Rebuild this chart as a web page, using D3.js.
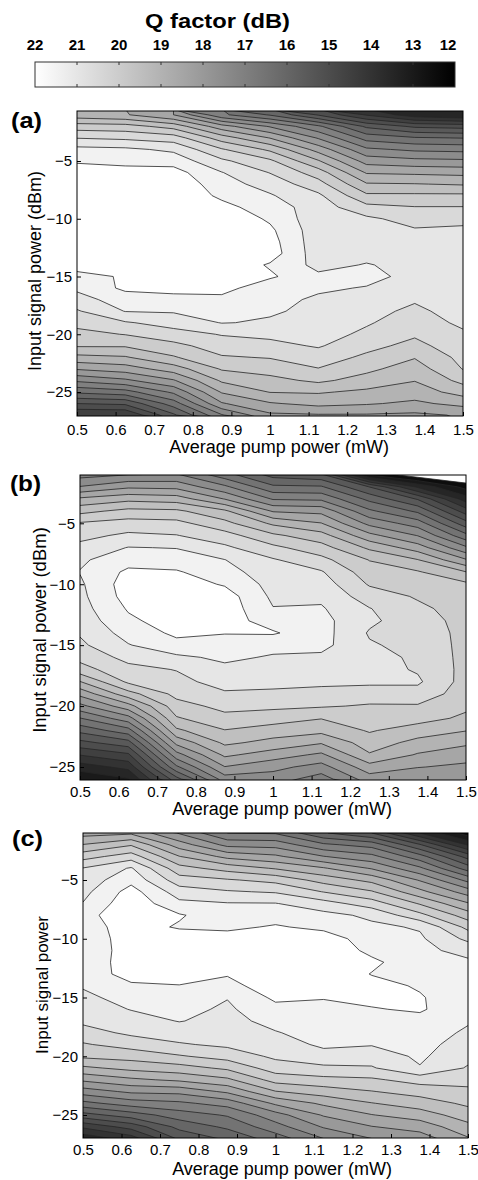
<!DOCTYPE html>
<html>
<head>
<meta charset="utf-8">
<script src="https://cdn.jsdelivr.net/npm/d3@7"></script>
<style>
  body { margin: 0; background: #fff; }
  svg { display: block; font-family: "Liberation Sans", Arial, sans-serif; }
</style>
</head>
<body>
<div id="chart"></div>
<script>
// pump power grid (mW), one entry per column of each Q table
var pumpPower = [0.5, 0.625, 0.75, 0.875, 1.0, 1.125, 1.25, 1.375, 1.5];
// input signal power rows (dBm), bottom to top
var signalA = [-27,-26,-25,-24,-23,-22,-21,-20,-19,-18,-17,-16,-15,-14,-13,-12,-11,-10,-9,-8,-7,-6,-5,-4,-3,-2,-1];
var signalB = [-26,-25,-24,-23,-22,-21,-20,-19,-18,-17,-16,-15,-14,-13,-12,-11,-10,-9,-8,-7,-6,-5,-4,-3,-2,-1];
var signalC = [-27,-26,-25,-24,-23,-22,-21,-20,-19,-18,-17,-16,-15,-14,-13,-12,-11,-10,-9,-8,-7,-6,-5,-4,-3,-2,-1];

// Q factor (dB), one array per pump power column, rows as in signalX
var qA = [
  [14.0,15.0,16.1,17.1,18.05,18.85,19.55,19.85,20.15,20.45,20.8,21.1,21.35,21.7,21.85,21.9,21.9,21.9,21.9,21.9,21.85,21.7,21.45,21.15,20.48,19.75,18.7],
  [14.0,15.1,16.3,17.4,18.25,18.95,19.55,20.02,20.45,21.02,21.25,21.6,21.55,21.85,21.9,21.9,21.9,21.9,21.9,21.9,21.85,21.7,21.35,21.1,20.4,19.7,18.55],
  [15.4,16.25,17.1,17.95,18.75,19.45,19.85,20.3,20.7,21.05,21.35,21.65,21.9,21.95,21.95,21.95,21.95,21.95,21.9,21.9,21.9,21.7,21.3,20.9,20.25,19.3,18.0],
  [16.95,17.95,18.55,19.08,19.55,19.95,20.25,20.53,21.02,21.15,21.35,21.7,21.9,21.9,21.9,21.9,21.9,21.9,21.65,21.4,21.2,21.02,20.6,20.05,19.25,18.2,16.6],
  [17.9,18.45,19.02,19.35,19.7,20.03,20.35,20.62,20.95,21.05,21.1,21.15,21.58,21.44,21.76,21.7,21.6,21.42,21.25,21.05,20.8,20.48,20.1,19.4,18.48,17.45,15.95],
  [17.95,18.65,19.05,19.6,19.98,20.25,20.55,20.7,20.8,20.9,20.95,21.05,21.1,20.85,20.72,20.7,20.7,20.68,20.75,20.6,20.2,19.75,19.05,18.3,17.45,16.6,14.95],
  [17.95,18.55,18.9,19.3,19.62,19.9,20.15,20.4,20.55,20.65,20.8,20.98,21.1,21.03,20.85,20.8,20.75,20.6,20.15,19.6,19.05,18.45,17.8,17.1,16.3,15.4,13.95],
  [17.9,18.4,18.75,19.02,19.25,19.53,19.85,20.07,20.25,20.4,20.55,20.8,20.9,20.85,20.75,20.65,20.55,20.3,20.02,19.6,19.02,18.4,17.65,16.9,16.05,14.9,13.2],
  [18.05,18.65,19.2,19.65,20.02,20.15,20.3,20.42,20.6,20.7,20.75,20.8,20.8,20.8,20.75,20.7,20.6,20.35,20.02,19.6,18.95,18.35,17.6,16.85,15.98,14.8,13.0]
];
var qB = [
  [12.55,13.25,14.02,14.85,15.65,16.48,17.35,18.15,18.98,19.8,20.15,20.4,20.55,20.7,20.8,20.87,20.92,21.02,20.92,20.65,20.35,20.05,19.35,18.6,17.52,16.8],
  [12.95,13.65,14.4,15.3,16.3,17.3,18.3,19.3,20.1,20.35,20.65,20.97,21.2,21.4,21.55,21.7,21.75,21.6,21.3,21.02,20.6,20.2,19.65,18.85,17.9,16.98],
  [15.3,16.4,17.3,18.15,18.9,19.45,19.8,20.15,20.35,20.52,20.9,21.35,21.6,21.75,21.8,21.8,21.75,21.55,21.25,20.98,20.52,20.15,19.6,18.75,17.85,17.05],
  [17.25,17.98,18.6,19.1,19.48,19.85,20.15,20.43,20.7,20.88,21.1,21.3,21.52,21.7,21.8,21.75,21.45,21.2,21.01,20.6,20.2,19.65,19.1,17.98,17.1,16.2],
  [17.25,17.65,18.25,18.85,19.25,19.75,20.1,20.4,20.65,20.8,20.95,21.15,21.55,21.3,21.02,20.9,20.82,20.7,20.55,20.12,19.6,18.9,17.95,16.95,16.1,15.3],
  [16.75,17.3,17.9,18.55,19.15,19.52,20.05,20.35,20.6,20.75,20.9,21.15,21.2,21.15,21.05,20.9,20.75,20.55,20.15,19.7,19.2,18.52,17.85,16.9,16.05,15.1],
  [17.75,18.3,18.95,19.25,19.55,19.78,19.95,20.25,20.6,20.7,20.7,20.55,20.45,20.6,20.52,20.25,19.95,19.72,19.48,18.9,18.15,17.35,16.6,15.85,14.98,12.4],
  [17.6,18.02,18.45,18.85,19.25,19.7,19.95,20.3,20.58,20.45,20.4,20.35,20.3,20.2,20.1,19.95,19.8,19.55,19.02,18.25,17.48,16.75,15.9,14.95,13.4,11.6],
  [17.7,17.9,18.2,18.6,19.02,19.4,19.6,19.75,19.8,19.85,19.85,19.85,19.85,19.85,19.8,19.75,19.6,19.02,18.05,17.1,16.15,15.2,14.25,13.25,12.3,11.3]
];
var qC = [
  [13.15,14.1,15.3,16.35,17.25,18.1,18.9,19.6,19.95,20.3,20.6,20.75,20.88,21.05,21.2,21.3,21.32,21.3,21.3,21.35,21.02,20.85,20.7,20.52,19.8,19.02,18.3],
  [13.75,14.7,15.75,16.75,17.6,18.4,19.15,19.7,20.2,20.6,20.8,21.02,21.2,21.42,21.7,21.65,21.62,21.65,21.7,21.8,21.85,21.7,21.35,21.05,20.25,19.45,18.4],
  [15.1,15.65,16.25,16.9,17.65,18.6,19.3,19.95,20.45,20.75,21.02,21.15,21.3,21.48,21.75,21.85,21.85,21.75,21.45,21.55,21.12,20.75,20.22,19.68,19.02,18.25,17.45],
  [15.6,16.1,16.55,17.2,18.1,18.9,19.6,20.2,20.6,20.75,20.85,20.92,21.02,21.3,21.55,21.8,21.85,21.7,21.4,21.2,21.03,20.55,20.05,19.3,18.35,17.35,16.5],
  [16.25,16.8,17.3,18.1,18.98,19.7,20.25,20.6,20.75,20.97,21.15,21.35,21.6,21.85,21.85,21.85,21.85,21.85,21.55,21.3,21.02,20.45,19.85,18.95,18.1,17.3,16.45],
  [17.0,17.55,18.05,18.6,19.25,19.85,20.4,20.8,21.1,21.2,21.3,21.4,21.52,21.85,21.85,21.85,21.85,21.75,21.38,21.15,20.7,19.98,19.3,18.55,17.52,16.6,15.55],
  [17.5,17.98,18.48,18.98,19.48,19.92,20.45,20.75,21.03,21.2,21.3,21.47,21.62,21.65,21.48,21.6,21.38,21.25,21.1,20.9,20.25,19.55,18.85,17.95,17.15,16.3,15.0],
  [17.75,18.2,18.75,19.25,19.7,20.2,20.97,21.08,21.15,21.25,21.35,21.56,21.54,21.45,21.35,21.2,21.12,21.08,20.95,20.15,19.45,18.65,17.95,17.1,16.2,15.05,13.5],
  [18.45,18.85,19.25,19.6,19.9,20.15,20.45,20.65,20.8,20.92,21.05,21.15,21.2,21.2,21.15,21.08,20.85,20.38,19.85,19.25,18.55,17.75,16.85,15.75,14.8,13.45,12.2]
];

var levels = [12,12.5,13,13.5,14,14.5,15,15.5,16,16.5,17,17.5,18,18.5,19,19.5,20,20.5,21,21.5];
var barTicks = [22,21,20,19,18,17,16,15,14,13,12];
var xTicks = [0.5,0.6,0.7,0.8,0.9,1,1.1,1.2,1.3,1.4,1.5];
var yTicks = [-5,-10,-15,-20,-25];

var svg = d3.select("#chart").append("svg")
    .attr("width", 478)
    .attr("height", 1180);

// band above level t gets the grey of its upper edge (22 = white, 12 = black)
function grey(t) {
  var v = Math.round((t + 0.5 - 12) / 10 * 255);
  v = Math.max(0, Math.min(255, v));
  return "rgb(" + v + "," + v + "," + v + ")";
}

// colour bar
var bar = {left: 35, right: 455, top: 62, bottom: 87};
var cb = d3.scaleLinear().domain([22, 12]).range([bar.left, bar.right]);
var grad = svg.append("defs").append("linearGradient").attr("id", "cbar");
grad.append("stop").attr("offset", "0%").attr("stop-color", "#fff");
grad.append("stop").attr("offset", "100%").attr("stop-color", "#000");

svg.append("text")
    .attr("x", 145).attr("y", 28)
    .attr("font-size", 20).attr("font-weight", "bold")
    .attr("textLength", 145).attr("lengthAdjust", "spacingAndGlyphs")
    .text("Q factor (dB)");

svg.append("rect")
    .attr("x", bar.left).attr("y", bar.top)
    .attr("width", bar.right - bar.left).attr("height", bar.bottom - bar.top)
    .attr("fill", "url(#cbar)")
    .attr("stroke", "#333").attr("stroke-width", 1);

svg.selectAll(".cbtick").data(barTicks.slice(1, -1)).enter().append("path")
    .attr("d", function(d) {
      var x = cb(d);
      return "M" + x + "," + bar.top + "v3M" + x + "," + bar.bottom + "v-3";
    })
    .attr("stroke", "#333").attr("stroke-width", 1);

svg.selectAll(".cblab").data(barTicks).enter().append("text")
    .attr("x", function(d, i) { return i === barTicks.length - 1 ? cb(d) - 7 : cb(d); })
    .attr("y", 50)
    .attr("text-anchor", "middle")
    .attr("font-size", 15).attr("font-weight", "bold")
    .text(function(d) { return d; });

function drawPanel(p) {
  var x = d3.scaleLinear().domain([0.5, 1.5]).range([p.left, p.right]);
  var y = d3.scaleLinear().domain([-25, -5]).range([p.y25, p.y5]);

  var n = pumpPower.length, m = p.rows.length;
  var values = new Array(n * m);
  for (var j = 0; j < m; j++) {
    for (var i = 0; i < n; i++) values[j * n + i] = p.q[i][j];
  }
  var contours = d3.contours().size([n, m]).thresholds(levels)(values);

  var dx = pumpPower[1] - pumpPower[0], dy = p.rows[1] - p.rows[0];
  var proj = d3.geoTransform({
    point: function(cx, cy) {
      this.stream.point(x(pumpPower[0] + (cx - 0.5) * dx), y(p.rows[0] + (cy - 0.5) * dy));
    }
  });
  var path = d3.geoPath(proj);

  svg.append("clipPath").attr("id", "clip" + p.name)
    .append("rect")
    .attr("x", p.left).attr("y", p.top)
    .attr("width", p.right - p.left).attr("height", p.bottom - p.top);

  var g = svg.append("g");
  var plot = g.append("g").attr("clip-path", "url(#clip" + p.name + ")");

  plot.append("rect")
      .attr("x", p.left).attr("y", p.top)
      .attr("width", p.right - p.left).attr("height", p.bottom - p.top)
      .attr("fill", "#fff");

  plot.selectAll(".band").data(contours).enter().append("path")
      .attr("d", path)
      .attr("fill", function(d) { return grey(d.value); });

  plot.selectAll(".line").data(contours).enter().append("path")
      .attr("d", path)
      .attr("fill", "none")
      .attr("stroke", "#262626")
      .attr("stroke-width", 0.8);

  // axes
  var xa = g.append("g")
      .attr("transform", "translate(0," + p.bottom + ")")
      .call(d3.axisBottom(x).tickValues(xTicks).tickFormat(d3.format("~g"))
        .tickSize(-4).tickSizeOuter(0).tickPadding(p.xPad));
  var ya = g.append("g")
      .attr("transform", "translate(" + p.left + ",0)")
      .call(d3.axisLeft(y).tickValues(yTicks).tickSize(-4).tickSizeOuter(0).tickPadding(5));
  [xa, ya].forEach(function(a) {
    a.select(".domain").remove();
    a.selectAll("line").attr("stroke", "#000");
    a.selectAll("text").attr("font-size", 15).attr("fill", "#000")
      .attr("font-family", "'Liberation Sans', Arial, sans-serif");
  });

  g.append("rect")
      .attr("x", p.left).attr("y", p.top)
      .attr("width", p.right - p.left).attr("height", p.bottom - p.top)
      .attr("fill", "none").attr("stroke", "#000").attr("stroke-width", 1);

  g.append("text")
      .attr("x", p.labX).attr("y", p.labY)
      .attr("font-size", 22).attr("font-weight", "bold")
      .attr("textLength", 31).attr("lengthAdjust", "spacingAndGlyphs")
      .text(p.label);

  g.append("text")
      .attr("x", p.xtX).attr("y", p.xtY)
      .attr("text-anchor", "middle")
      .attr("font-size", 18)
      .text("Average pump power (mW)");

  g.append("text")
      .attr("transform", "translate(" + p.ytX + "," + p.ytY + ") rotate(-90)")
      .attr("text-anchor", "middle")
      .attr("font-size", p.ytSize)
      .text(p.yTitle);
}

drawPanel({name: "a", q: qA, rows: signalA, left: 77, right: 463, top: 111, bottom: 416,
  y5: 161, y25: 392, xPad: 8, label: "(a)", labX: 11, labY: 128,
  xtX: 279, xtY: 453, ytX: 41, ytY: 271, ytSize: 18, yTitle: "Input signal power (dBm)"});

drawPanel({name: "b", q: qB, rows: signalB, left: 80, right: 466, top: 475, bottom: 780,
  y5: 523.3, y25: 767, xPad: 6, label: "(b)", labX: 10, labY: 491,
  xtX: 282, xtY: 815, ytX: 46, ytY: 630, ytSize: 18.5, yTitle: "Input signal power (dBm)"});

drawPanel({name: "c", q: qC, rows: signalC, left: 83, right: 468, top: 833, bottom: 1138,
  y5: 880, y25: 1115, xPad: 6, label: "(c)", labX: 12, labY: 846,
  xtX: 282, xtY: 1175, ytX: 48, ytY: 985, ytSize: 17, yTitle: "Input signal power"});
</script>
</body>
</html>
